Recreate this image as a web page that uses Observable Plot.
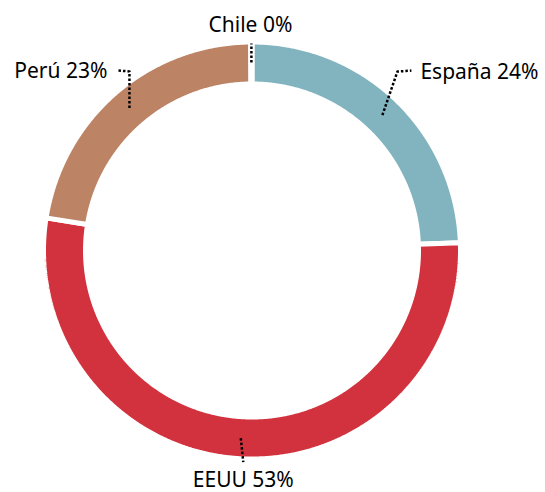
<!DOCTYPE html>
<html><head><meta charset="utf-8">
<script src="https://cdn.jsdelivr.net/npm/d3@7"></script>
<script src="https://cdn.jsdelivr.net/npm/@observablehq/plot@0.6"></script>
<style>body{margin:0;background:#fff} svg{display:block}</style>
</head><body><div id="chart"></div>
<script>
// Data
const categories = ["España", "EEUU", "Perú", "Chile"];
const values = [24.4, 53.1, 22.4, 0.1];
const labels = ["España 24%", "EEUU 53%", "Perú 23%", "Chile 0%"];
const colors = ["#82b4bf", "#d1323d", "#bc8364", "#ffffff"];

// Layout
const W = 545, H = 492;
const cx = 251.5, cy = 250, R = 208.5, r0 = 166.5, rLeader = 188;
const leaderLayout = {
  "España": {pts: [[15, -43.5], [29, -44.5]], text: [9, 1.3], anchor: "start"},
  "EEUU":   {pts: [[2.5, 24]], text: [0, 18.6], anchor: "middle"},
  "Perú":   {pts: [[0, -36.5], [-12, -37.5]], text: [-10, 1.3], anchor: "end"},
  "Chile":  {pts: [[0, -19]], text: [-1, -18], anchor: "middle"}
};

const pol = (a, rad) => [cx + rad * Math.sin(a), cy - rad * Math.cos(a)];
const arcs = d3.pie().sort(null).value(d => d.value)(
  categories.map((c, i) => ({cat: c, value: values[i], label: labels[i]}))
);

const slicePts = [];
const leaderPts = [];
const labelRows = [];
for (const a of arcs) {
  const cat = a.data.cat;
  const n = Math.max(2, Math.ceil((a.endAngle - a.startAngle) / 0.005));
  const outer = [], inner = [];
  for (let k = 0; k <= n; k++) {
    const t = a.startAngle + (a.endAngle - a.startAngle) * k / n;
    outer.push(pol(t, R));
    inner.push(pol(t, r0));
  }
  for (const p of outer.concat(inner.reverse())) slicePts.push({cat, x: p[0], y: p[1]});
  const mid = (a.startAngle + a.endAngle) / 2;
  const s = pol(mid, rLeader);
  const L = leaderLayout[cat];
  leaderPts.push({cat, x: s[0], y: s[1]});
  let last = s;
  for (const [dx, dy] of L.pts) { last = [s[0] + dx, s[1] + dy]; leaderPts.push({cat, x: last[0], y: last[1]}); }
  labelRows.push({cat, label: a.data.label, x: last[0] + L.text[0], y: last[1] + L.text[1], anchor: L.anchor});
}

const chart = Plot.plot({
  width: W, height: H,
  margin: 0,
  x: {domain: [0, W], range: [0, W], axis: null},
  y: {domain: [0, H], range: [0, H], axis: null},
  color: {domain: categories, range: colors},
  style: {fontFamily: "'Noto Sans', sans-serif", fontSize: "21px", background: "#fff"},
  marks: [
    Plot.line(slicePts, {x: "x", y: "y", z: "cat", fill: "cat", stroke: "white", strokeWidth: 5, curve: "linear-closed", strokeLinejoin: "miter"}),
    Plot.line(leaderPts, {x: "x", y: "y", z: "cat", stroke: "black", strokeWidth: 2.5, strokeDasharray: "2.5,2", strokeLinecap: "butt"}),
    ...["start", "middle", "end"].map(anc =>
      Plot.text(labelRows.filter(d => d.anchor === anc), {x: "x", y: "y", text: "label", textAnchor: anc, fill: "black", fontSize: 21})
    )
  ]
});
document.getElementById("chart").appendChild(chart);
</script>
</body></html>
